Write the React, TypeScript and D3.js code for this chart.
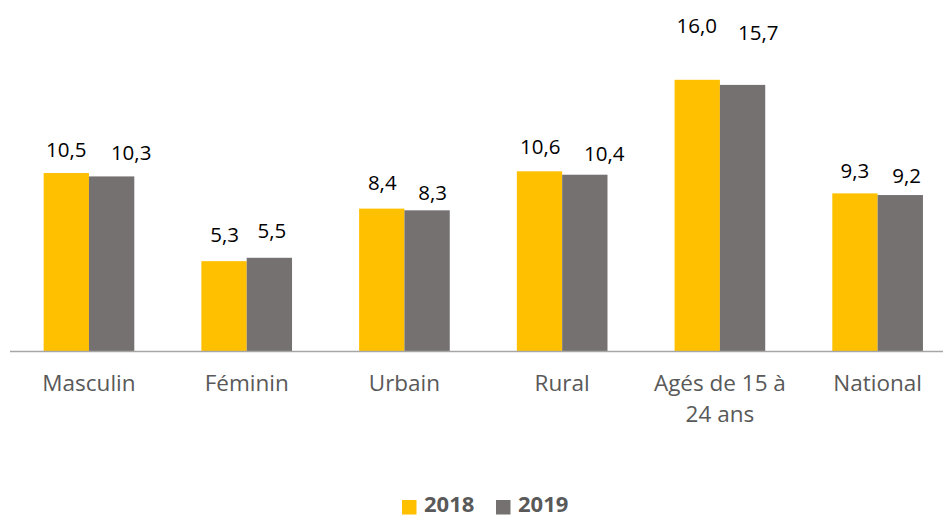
import React from "react";
import * as d3 from "d3";

const categories = ["Masculin", "Féminin", "Urbain", "Rural", "Agés de 15 à|24 ans", "National"];
const series = ["2018", "2019"];
const values2018 = [10.5, 5.3, 8.4, 10.6, 16.0, 9.3];
const values2019 = [10.3, 5.5, 8.3, 10.4, 15.7, 9.2];
const colors = ["#FFC000", "#767171"];

// label placement (offset from bar top / bar centre, px)
const labelGap2018 = [16, 19.3, 18.7, 17.7, 46.7, 15.6];
const labelGap2019 = [16.3, 19.7, 10.7, 13.7, 45, 11.7];
const labelDx2018 = [0, 0.5, 0.5, 0.7, -0.5, 0];
const labelDx2019 = [19.5, 2.5, 5.5, 19.5, 15.8, 6.4];

const W = 943;
const H = 517;

export default function App() {
  const x = d3.scaleBand<string>().domain(categories).range([10.1, 956.5]).paddingInner(0).paddingOuter(0);
  const inner = d3.scaleBand<string>().domain(series).range([0, x.bandwidth()]).paddingInner(0).paddingOuter(0.74);
  const y = d3.scaleLinear().domain([0, 16]).range([351, 351 - 16 * 16.95]);
  const fmt = (v: number) => d3.format(".1f")(v).replace(".", ",");
  const font = "'Open Sans', sans-serif";
  const seriesVals = [values2018, values2019];
  const gaps = [labelGap2018, labelGap2019];
  const dxs = [labelDx2018, labelDx2019];

  return (
    <svg width={W} height={H} style={{ position: "absolute", left: 0, top: 0, background: "#fff" }} fontFamily={font}>
      {categories.map((c, i) => (
        <g key={c} transform={`translate(${x(c)},0)`}>
          {series.map((s, j) => {
            const v = seriesVals[j][i];
            const bx = inner(s)!;
            const bw = inner.bandwidth();
            return (
              <g key={s}>
                <rect x={bx} y={y(v)} width={bw} height={y(0) - y(v)} fill={colors[j]} />
                <text x={bx + bw / 2 + dxs[j][i]} y={y(v) - gaps[j][i]} textAnchor="middle" fontSize={20.5} fill="#000">
                  {fmt(v)}
                </text>
              </g>
            );
          })}
          {c.split("|").map((line, k) => (
            <text key={k} x={x.bandwidth() / 2} y={391 + k * 31} textAnchor="middle" fontSize={22.5} fill="#595959">
              {line}
            </text>
          ))}
        </g>
      ))}
      <line x1={10} x2={957} y1={351.5} y2={351.5} stroke="#A6A6A6" strokeWidth={1.5} />
      {series.map((s, j) => (
        <g key={s} transform={`translate(${j === 0 ? 402 : 496},0)`}>
          <rect x={0} y={500} width={14.5} height={14.5} fill={colors[j]} />
          <text x={22} y={512} fontSize={22} fontWeight="bold" fill="#595959">{s}</text>
        </g>
      ))}
    </svg>
  );
}
